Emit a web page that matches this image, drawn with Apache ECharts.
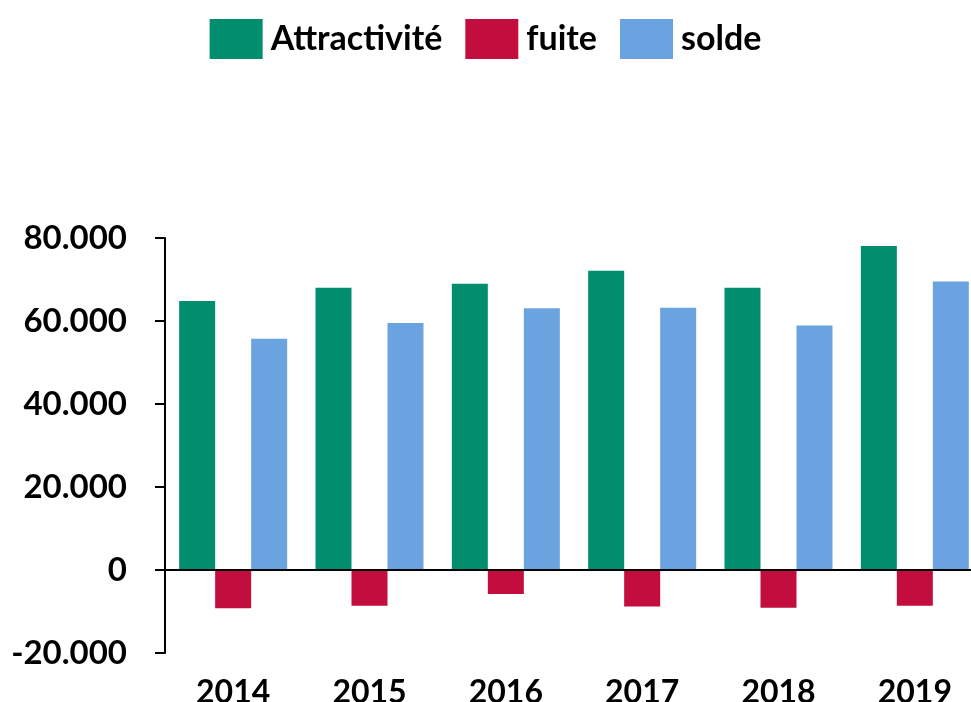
<!DOCTYPE html>
<html>
<head>
<meta charset="utf-8">
<script src="https://cdn.jsdelivr.net/npm/echarts@6/dist/echarts.min.js"></script>
<style>
html,body{margin:0;padding:0;background:#fff;}
#chart{width:971px;height:702px;}
</style>
</head>
<body>
<div id="chart"></div>
<script>
var categories = ['2014', '2015', '2016', '2017', '2018', '2019'];
var attractivite = [64800, 68000, 69000, 72100, 68000, 78100];
var fuite = [-9200, -8600, -5800, -8800, -9100, -8600];
var solde = [55700, 59500, 63100, 63200, 58900, 69500];
var seriesNames = ['Attractivité', 'fuite', 'solde'];

var FONT = 'Lato';
var chart = echarts.init(document.getElementById('chart'));
function fmt(v) {
  if (v === 0) return '0';
  var s = String(Math.abs(v)).replace(/\B(?=(\d{3})+(?!\d))/g, '.');
  return (v < 0 ? '-' : '') + s;
}
var option = {
  animation: false,
  backgroundColor: '#ffffff',
  color: ['#008E6E', '#C30D3E', '#6AA3E0'],
  legend: {
    data: seriesNames,
    left: 'center',
    top: 14,
    itemWidth: 53,
    itemHeight: 40,
    itemGap: 23,
    icon: 'rect',
    textStyle: { fontFamily: FONT, fontWeight: 'bold', fontSize: 34, color: '#000', padding: [0, 0, 0, 3] }
  },
  grid: { left: 165, width: 818, top: 238, bottom: 49, containLabel: false, outerBoundsMode: 'none' },
  xAxis: {
    type: 'category',
    data: categories,
    position: 'bottom',
    axisLine: { show: false, onZero: false },
    axisTick: { show: false },
    axisLabel: { margin: 24, fontFamily: FONT, fontWeight: 'bold', fontSize: 32, color: '#000' }
  },
  yAxis: {
    type: 'value',
    min: -20000,
    max: 80000,
    interval: 20000,
    axisLine: { show: true, lineStyle: { color: '#000', width: 2 } },
    axisTick: { show: true, length: 10, inside: false, lineStyle: { color: '#000', width: 2 } },
    splitLine: { show: false },
    axisLabel: { margin: 38, fontFamily: FONT, fontWeight: 'bold', fontSize: 33, color: '#000', formatter: fmt }
  },
  series: [
    { name: seriesNames[0], type: 'bar', data: attractivite, barWidth: 36, barGap: '0%',
      markLine: { silent: true, symbol: 'none', label: { show: false },
        lineStyle: { color: '#000', width: 2, type: 'solid' }, data: [{ yAxis: 0 }] } },
    { name: seriesNames[1], type: 'bar', data: fuite, barWidth: 36, barGap: '0%' },
    { name: seriesNames[2], type: 'bar', data: solde, barWidth: 36, barGap: '0%' }
  ]
};
chart.setOption(option);
</script>
</body>
</html>
